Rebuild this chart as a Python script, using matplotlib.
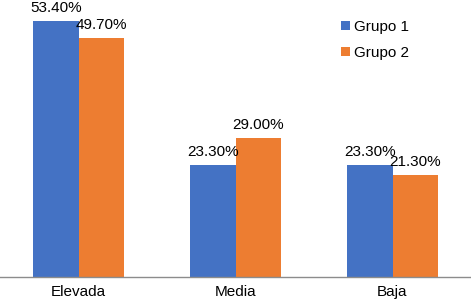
import numpy as np
import matplotlib.pyplot as plt

categories = ["Elevada", "Media", "Baja"]
grupo1 = [53.40, 23.30, 23.30]
grupo2 = [49.70, 29.00, 21.30]
series_names = ["Grupo 1", "Grupo 2"]

plt.rcParams['font.family'] = ['Liberation Sans', 'DejaVu Sans']

fig = plt.figure(figsize=(4.71, 3.01), dpi=100)
ax = fig.add_axes([0, 24 / 301, 1, 277 / 301])

x = np.arange(len(categories))
w = 0.29
b1 = ax.bar(x - w / 2, grupo1, w, color='#4472C4', label=series_names[0])
b2 = ax.bar(x + w / 2, grupo2, w, color='#ED7D31', label=series_names[1])

for bars, vals in ((b1, grupo1), (b2, grupo2)):
    for rect, v in zip(bars, vals):
        ax.annotate(f"{v:.2f}%", (rect.get_x() + rect.get_width() / 2, v),
                    xytext=(0, 6.5), textcoords='offset points',
                    ha='center', va='baseline', fontsize=11, color='#000000')

ax.set_xlim(-0.5, 2.5)
ax.set_ylim(0, 57.7)
ax.set_xticks(x)
ax.set_xticklabels(categories, fontsize=11)
ax.tick_params(axis='x', length=0, pad=6)
ax.set_yticks([])
for s in ['top', 'right', 'left']:
    ax.spines[s].set_visible(False)
ax.spines['bottom'].set_color('#8c8c8c')
ax.spines['bottom'].set_linewidth(1)

fig.legend(loc='upper left', bbox_to_anchor=(335 / 471, 1 - 14 / 301), frameon=False,
           fontsize=11, handlelength=0.55, handleheight=0.55, handletextpad=0.3,
           labelspacing=0.75, borderaxespad=0)

fig.savefig('out.png', dpi=100)
